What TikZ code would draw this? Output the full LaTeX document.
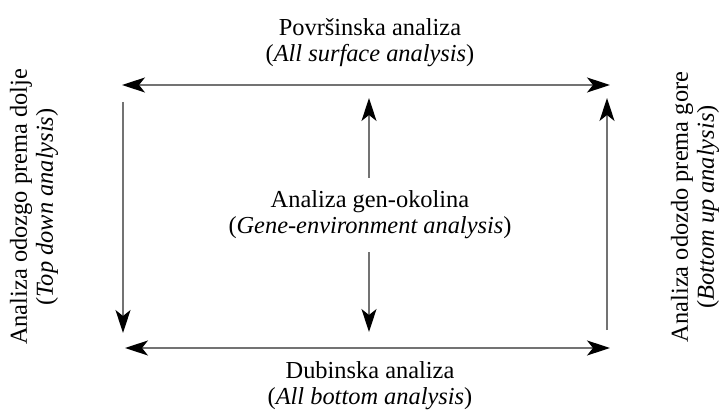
\documentclass[tikz,border=0pt]{standalone}
\usepackage{fontspec}
\setmainfont{Liberation Serif}
\usetikzlibrary{arrows.meta}

\tikzset{
  lbl/.style={align=center,inner sep=0pt,font=\fontsize{12.2}{13}\selectfont},
  arr/.style={draw=black!55,line width=0.7pt,-{Stealth[black,length=11.5pt,width=7.5pt,inset=3pt]}},
  darr/.style={arr,{Stealth[black,length=11.5pt,width=7.5pt,inset=3pt]}-{Stealth[black,length=11.5pt,width=7.5pt,inset=3pt]}}
}

\begin{document}
\begin{tikzpicture}[x=0.5pt,y=-0.5pt]
                \useasboundingbox (0,0) rectangle (722,411);

                % ends of the arrows
                \coordinate (T1) at (122,85);
                \coordinate (T2) at (610,85);
                \coordinate (B1) at (125,348);
                \coordinate (B2) at (610,348);
                \coordinate (L1) at (123,102);
                \coordinate (L2) at (123,333);
                \coordinate (R1) at (607,330);
                \coordinate (R2) at (607,98);
                \coordinate (U1) at (369,178);
                \coordinate (U2) at (369,98);
                \coordinate (D1) at (369,252);
                \coordinate (D2) at (369,332);

                \node[lbl] (surf) at (370,43) {Površinska analiza\\(\textit{All surface analysis})};
                \node[lbl] (deep) at (370,386) {Dubinska analiza\\(\textit{All bottom analysis})};
                \node[lbl] (gene) at (370,215) {Analiza gen-okolina\\(\textit{Gene-environment analysis})};
                \node[lbl,rotate=90] (down) at (34,207) {Analiza odozgo prema dolje\\(\textit{Top down analysis})};
                \node[lbl,rotate=90] (up) at (695,207) {Analiza odozdo prema gore\\(\textit{Bottom up analysis})};

                \draw[darr](T1)--(T2);
                \draw[darr](B1)--(B2);
                \draw[arr](L1)--(L2);
                \draw[arr](R1)--(R2);
                \draw[arr](U1)--(U2);
                \draw[arr](D1)--(D2);

            \end{tikzpicture}
\end{document}
